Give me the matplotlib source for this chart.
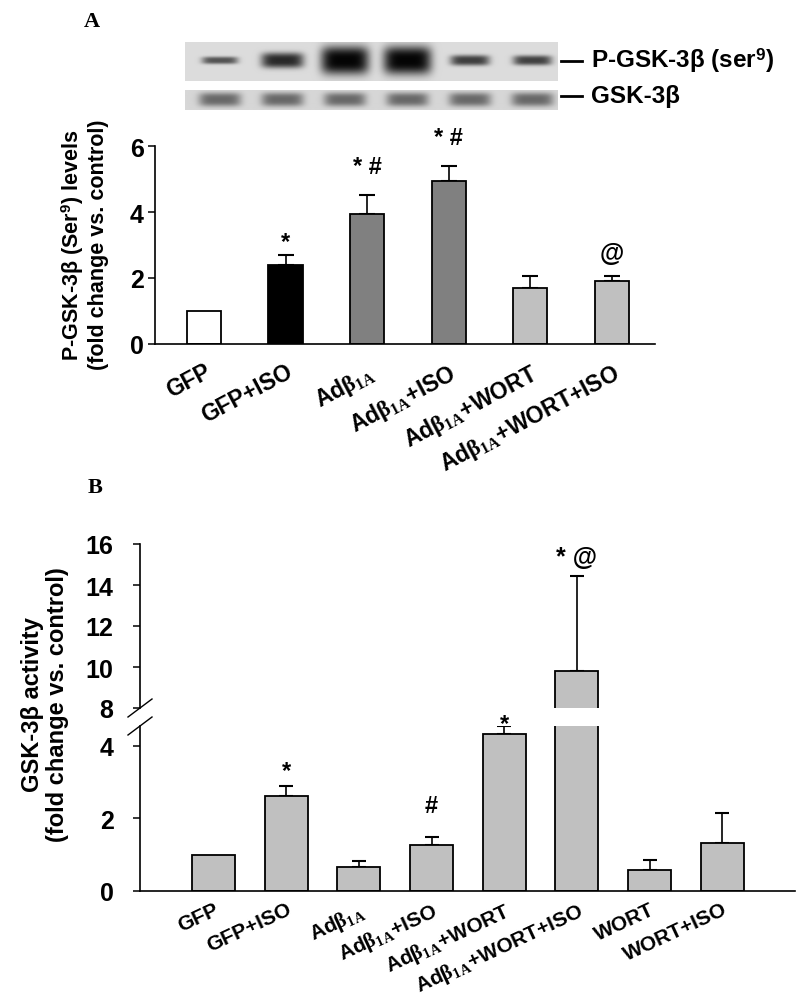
import numpy as np
import matplotlib
matplotlib.use("Agg")
import matplotlib.pyplot as plt

plt.rcParams['font.family'] = ['Liberation Sans', 'DejaVu Sans']
plt.rcParams['font.weight'] = 'bold'
plt.rcParams['mathtext.fontset'] = 'custom'
plt.rcParams['mathtext.rm'] = 'Liberation Serif'
plt.rcParams['mathtext.it'] = 'Liberation Serif:italic'
plt.rcParams['mathtext.bf'] = 'Liberation Sans:bold'
plt.rcParams['mathtext.sf'] = 'Liberation Sans'

# ---------------- data ----------------
a_labels = ['GFP', 'GFP+ISO', r'Ad$\mathrm{\beta_{1A}}$', r'Ad$\mathrm{\beta_{1A}}$+ISO',
            r'Ad$\mathrm{\beta_{1A}}$+WORT', r'Ad$\mathrm{\beta_{1A}}$+WORT+ISO']
a_means = [1.0, 2.39, 3.94, 4.94, 1.69, 1.91]
a_errs = [0.0, 0.32, 0.58, 0.46, 0.36, 0.14]
a_marks = ['', '*', '* #', '* #', '', '@']

b_labels = ['GFP', 'GFP+ISO', r'Ad$\mathrm{\beta_{1A}}$', r'Ad$\mathrm{\beta_{1A}}$+ISO',
            r'Ad$\mathrm{\beta_{1A}}$+WORT', r'Ad$\mathrm{\beta_{1A}}$+WORT+ISO',
            'WORT', 'WORT+ISO']
b_means = [1.0, 2.61, 0.65, 1.28, 4.33, 9.82, 0.58, 1.31]
b_errs = [0.0, 0.29, 0.17, 0.22, 0.21, 4.63, 0.28, 0.83]
b_marks = ['', '*', '', '#', '*', '* @', '', '']

# western blot relative band signal (6 lanes)
p_gsk_signal = [0.25, 0.65, 1.0, 1.0, 0.45, 0.42]
t_gsk_signal = [0.60, 0.62, 0.60, 0.62, 0.58, 0.62]

# ---------------- style ----------------
a_colors = ['white', 'black', '#808080', '#808080', '#c0c0c0', '#c0c0c0']
b_color = '#c0c0c0'
a_mark_off = [0, 1, 12, 12, 0, 8]
b_mark_off = [0, 3, 0, 14, -6, 5]

W, H = 800, 1003
fig = plt.figure(figsize=(W / 100, H / 100), dpi=100)


def px(x0, y0, x1, y1):
    return [x0 / W, 1 - y1 / H, (x1 - x0) / W, (y1 - y0) / H]


def style_axis(ax, bottom=True, pad=3):
    for s in ['top', 'right']:
        ax.spines[s].set_visible(False)
    ax.spines['left'].set_linewidth(1.2)
    ax.spines['bottom'].set_linewidth(1.2)
    if not bottom:
        ax.spines['bottom'].set_visible(False)
    ax.tick_params(axis='y', direction='out', length=5, width=1.1, labelsize=18, pad=pad)
    ax.tick_params(axis='x', length=0)
    for t in ax.get_yticklabels():
        t.set_fontweight('bold')


def draw_bars(ax, means, errs, colors, width, capsize):
    x = np.arange(len(means))
    ax.bar(x, means, width=width, color=colors, edgecolor='black', linewidth=1.3, zorder=2)
    m = np.array(errs) > 0
    ax.errorbar(x[m], np.array(means)[m],
                yerr=[np.zeros(m.sum()), np.array(errs)[m]],
                fmt='none', ecolor='black', elinewidth=1.2, capsize=capsize,
                capthick=1.5, zorder=1)
    return x


# ---------------- panel A ----------------
axA = fig.add_axes(px(155, 147, 655, 345))
xa = draw_bars(axA, a_means, a_errs, a_colors, 0.42, 6)
axA.set_xlim(-0.60, 5.53)
axA.set_ylim(0, 6)
axA.set_yticks([0, 2, 4, 6])
style_axis(axA, pad=3)
axA.set_xticks(xa)
axA.set_xticklabels(a_labels, rotation=28, ha='right', rotation_mode='anchor',
                    fontsize=16.5, fontweight='bold')
axA.tick_params(axis='x', pad=11)
for i, (mk, m, e) in enumerate(zip(a_marks, a_means, a_errs)):
    if mk:
        axA.annotate(mk, (i, m + e), xytext=(0, a_mark_off[i]), textcoords='offset points',
                     ha='center', va='bottom', fontsize=18 if '@' in mk else 17,
                     fontweight='bold', annotation_clip=False)

fig.text(84 / W, 1 - 245 / H, 'P-GSK-3β (Ser$^{\\mathbf{9}}$) levels\n(fold change vs. control)',
         rotation=90, ha='center', va='center', fontsize=15.5, fontweight='bold',
         linespacing=1.1, multialignment='center')

# ---------------- blot ----------------
def blot(rect, signals, bg, hw_fn, hh_fn, dk_fn, cy_frac):
    ax = fig.add_axes(px(*rect))
    wpx = int(rect[2] - rect[0])
    hpx = int(rect[3] - rect[1])
    yy, xx = np.mgrid[0:hpx, 0:wpx] + 0.5
    img = np.ones((hpx, wpx))
    lane_x = 220 - rect[0] + 62.5 * np.arange(len(signals))
    for cx, s in zip(lane_x, signals):
        hw, hh, dk = hw_fn(s), hh_fn(s), dk_fn(s)
        prof = np.exp(-(np.abs(xx - cx) / hw) ** 5 - (np.abs(yy - hpx * cy_frac) / hh) ** 3)
        img *= 1 - dk * prof
    img *= bg
    ax.imshow(img, cmap='gray', vmin=0, vmax=1, aspect='auto', interpolation='bilinear')
    ax.set_axis_off()
    return ax


blot((185, 43, 558, 82), p_gsk_signal, 0.86,
     lambda s: 16 + 8 * s, lambda s: 3.0 + 11 * s ** 2, lambda s: 0.5 + 0.48 * s, 0.47)
blot((185, 91, 558, 111), t_gsk_signal, 0.84,
     lambda s: 21, lambda s: 6.5, lambda s: 0.45 + 0.1 * s, 0.5)

fig.add_artist(plt.Line2D([561 / W, 582 / W], [1 - 62 / H] * 2, color='black', lw=2))
fig.add_artist(plt.Line2D([561 / W, 582 / W], [1 - 97 / H] * 2, color='black', lw=2))
fig.text(591 / W, 1 - 61 / H, 'P-GSK-3β (ser$^{\\mathbf{9}}$)', ha='left', va='center',
         fontsize=17.5, fontweight='bold')
fig.text(591 / W, 1 - 97 / H, 'GSK-3β', ha='left', va='center',
         fontsize=17.5, fontweight='bold')

fig.text(92 / W, 1 - 22 / H, 'A', family='Liberation Serif', fontsize=16,
         fontweight='bold', ha='center', va='center')
fig.text(95 / W, 1 - 488 / H, 'B', family='Liberation Serif', fontsize=16,
         fontweight='bold', ha='center', va='center')

# ---------------- panel B ----------------
axBu = fig.add_axes(px(140, 545, 795, 709))
axBl = fig.add_axes(px(140, 727, 795, 892))
for ax in (axBu, axBl):
    xb = draw_bars(ax, b_means, b_errs, [b_color] * len(b_means), 0.59, 5)
    ax.set_xlim(-1.01, 8.0)
axBu.set_ylim(8, 16)
axBu.set_yticks([8, 10, 12, 14, 16])
axBl.set_ylim(0, 4.55)
axBl.set_yticks([0, 2, 4])
style_axis(axBu, bottom=False, pad=14)
style_axis(axBl, pad=14)
axBu.set_xticks([])
axBl.set_xticks(xb)
axBl.set_xticklabels(b_labels, rotation=25, ha='right', rotation_mode='anchor',
                     fontsize=15, fontweight='bold')
axBl.tick_params(axis='x', pad=6)

for i, (mk, m, e) in enumerate(zip(b_marks, b_means, b_errs)):
    if mk:
        tgt = axBu if m + e > 8 else axBl
        tgt.annotate(mk, (i, m + e), xytext=(0, b_mark_off[i]), textcoords='offset points',
                     ha='center', va='bottom', fontsize=18 if '@' in mk else 17,
                     fontweight='bold', annotation_clip=False)

# axis break marks
for ax, ya in ((axBu, 0.0), (axBl, 1.0)):
    bb = ax.get_position()
    dx = 12 / (bb.width * W)
    dy = 9 / (bb.height * H)
    ax.plot([-dx, dx], [ya - dy, ya + dy], transform=ax.transAxes, color='black',
            lw=1.0, clip_on=False)

fig.text(45 / W, 1 - 705 / H, 'GSK-3β activity\n(fold change vs. control)',
         rotation=90, ha='center', va='center', fontsize=17, fontweight='bold',
         linespacing=1.1, multialignment='center')

fig.savefig('out.png', dpi=100)
